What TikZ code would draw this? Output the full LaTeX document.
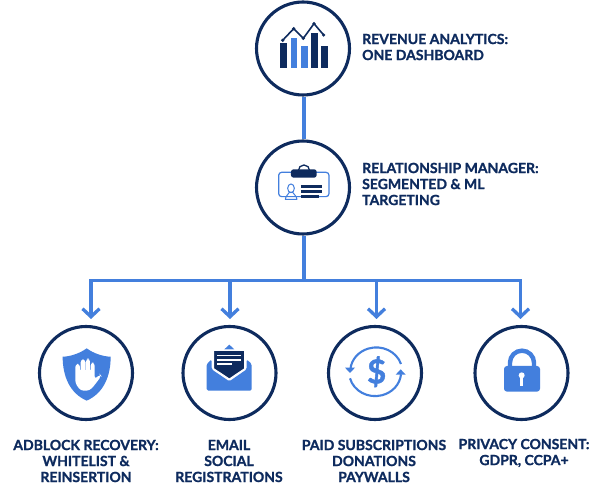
\documentclass[tikz,border=0pt]{standalone}
\usepackage{fontspec}
\setmainfont{Lato}[BoldFeatures={FakeBold=1.2}]
\usetikzlibrary{arrows.meta,positioning,calc}
\definecolor{navy}{RGB}{14,43,94}
\definecolor{sky}{RGB}{67,127,221}
\tikzset{
  ring/.style={circle, draw=navy, line width=3.1pt, fill=white, minimum size=93pt, inner sep=0pt},
  caption/.style={font=\fontsize{14}{16}\selectfont\bfseries, text=navy, inner sep=0pt},
  flow/.style={draw=sky, line width=3.3pt},
  drop/.style={flow, -{Straight Barb[length=8pt,width=17pt,line width=3.3pt]}},
  icon/.style={shift={#1}, x=.3333pt, y=-.3333pt}
}
\begin{document}
\begin{tikzpicture}[x=1pt,y=-1pt]
  \useasboundingbox (0,0) rectangle (600,494);
  % connectors first, the rings sit on top
  \node[ring] (analytics) at (303,48.5) {};
  \node[ring] (manager) at (303,187.5) {};
  \node[ring] (adblock) at (86,373) {};
  \node[ring] (email) at (229.5,373) {};
  \node[ring] (paid) at (375,373) {};
  \node[ring] (privacy) at (521.5,373) {};
  \coordinate (bus) at (304,280.5);
  \draw[flow] (304,0 |- analytics.south) -- (304,0 |- manager.north);
  \draw[flow] (304,0 |- manager.south) -- (bus);
  \foreach \name/\x in {tipa/91,tipb/230,tipc/376.5,tipd/520.5}
    \coordinate (\name) at (\x,319);
  \draw[drop] (bus) -| (tipa);
  \draw[drop] (bus) -| (tipd);
  \draw[drop] (bus -| tipb) -- (tipb);
  \draw[drop] (bus -| tipc) -- (tipc);

  % bars and trend line
  \begin{scope}[icon={(240,0)}]
    \foreach \l/\r/\t/\c in {119/140/130/navy,152/172/113/sky,183/203/137/sky,212/233/100/navy,244/265/138/navy}
      \fill[\c] (\l,\t) rectangle (\r,203);
    \draw[navy,line width=1.6pt] (128,121)--(161,86)--(190,115)--(222,71)--(251,105);
    \foreach \x/\y in {128/121,161/86,190/115,222/71,251/105}
      \fill[navy] (\x,\y) circle (1.8pt);
  \end{scope}

  % badge
  \begin{scope}[icon={(240,0)}]
    \draw[sky,line width=1.2pt,rounded corners=3pt] (116,517) rectangle (267,590);
    \draw[navy,line width=1.3pt] (175,512) arc[start angle=180,end angle=360,radius=17];
    \fill[navy,rounded corners=2.5pt] (153,508) rectangle (230,533);
    \draw[sky,line width=1pt] (153,565) ellipse[x radius=10,y radius=13];
    \draw[sky,line width=1pt,line join=round] (136,598) .. controls (137,586) and (146,584) .. (148,577)
      -- (158,577) .. controls (160,584) and (170,586) .. (171,598) -- cycle;
    \foreach \y/\r in {560/246,575/246,590/236}
      \draw[navy,line width=2.4pt] (183,\y) -- (\r,\y);
  \end{scope}

  % shield with a raised hand
  \begin{scope}[icon={(50,340)}]
    \fill[sky] (110,25) .. controls (90,40) and (60,50) .. (38,50)
      .. controls (38,110) and (60,160) .. (110,182)
      .. controls (160,160) and (182,110) .. (182,50)
      .. controls (160,50) and (130,40) .. (110,25) -- cycle;
    \fill[white,rounded corners=3pt] (76,130) -- (76,72) -- (90,72) -- (90,98) -- (92,98) -- (92,58) -- (106,58)
      -- (106,98) -- (108,98) -- (108,56) -- (120,56) -- (120,98) -- (122,98) -- (122,68) -- (134,68)
      -- (134,118) -- (150,103) -- (154,108) -- (130,140) -- (118,152) -- (92,152) -- cycle;
  \end{scope}

  % open envelope
  \begin{scope}[icon={(195,340)}]
    \fill[sky] (103,14) -- (118,28) -- (88,28) -- cycle;
    \fill[sky,rounded corners=1.5pt] (35,72) -- (50,58) -- (50,88) -- (103,124) -- (155,88) -- (155,58)
      -- (170,72) -- (170,152) -- (35,152) -- cycle;
    \fill[navy,draw=white,line width=1pt] (56,31) -- (149,31) -- (149,86) -- (103,117) -- (56,86) -- cycle;
    \foreach \y/\r in {47/138,60/138,72/112}
      \draw[white,line width=1.1pt] (67,\y) -- (\r,\y);
  \end{scope}

  % dollar with two turning arrows
  \begin{scope}[icon={(340,340)}]
    \draw[sky,line width=2.1pt] (183,72) arc[start angle=-18,end angle=-175,x radius=78,y radius=72];
    \draw[sky,line width=2.1pt] (30,115) arc[start angle=165,end angle=5,x radius=78,y radius=72];
    \fill[sky] (15,83) -- (45,83) -- (30,99) -- cycle;
    \fill[sky] (167,104) -- (197,104) -- (182,88) -- cycle;
    \node[inner sep=0pt,text=sky,font=\fontsize{33}{33}\selectfont\bfseries] (dollar) at (110,95) {\$};
  \end{scope}

  % padlock
  \begin{scope}[icon={(490,340)}]
    \draw[sky,line width=4.4pt] (60,85) -- (60,68) arc[start angle=180,end angle=360,radius=36] -- (132,85);
    \fill[sky,rounded corners=3pt] (42,78) rectangle (150,155);
    \fill[white] (95,106) circle (3pt);
    \fill[white] (91,108) rectangle (99,138);
  \end{scope}

  \node[caption,align=left,anchor=west] (analyticstext) at (362,47) {REVENUE ANALYTICS:\\ONE DASHBOARD};
  \node[caption,align=left,anchor=west] (managertext) at (362,184) {RELATIONSHIP MANAGER:\\SEGMENTED \& ML\\TARGETING};
  \node[caption,align=center] (adblocktext) at (86,461) {ADBLOCK RECOVERY:\\WHITELIST \&\\REINSERTION};
  \node[caption,align=center] (emailtext) at (229,461) {EMAIL\\SOCIAL\\REGISTRATIONS};
  \node[caption,align=center] (paidtext) at (374,461) {PAID SUBSCRIPTIONS\\DONATIONS\\PAYWALLS};
  \node[caption,align=center] (privacytext) at (524,453) {PRIVACY CONSENT:\\GDPR, CCPA+};
\end{tikzpicture}
\end{document}
